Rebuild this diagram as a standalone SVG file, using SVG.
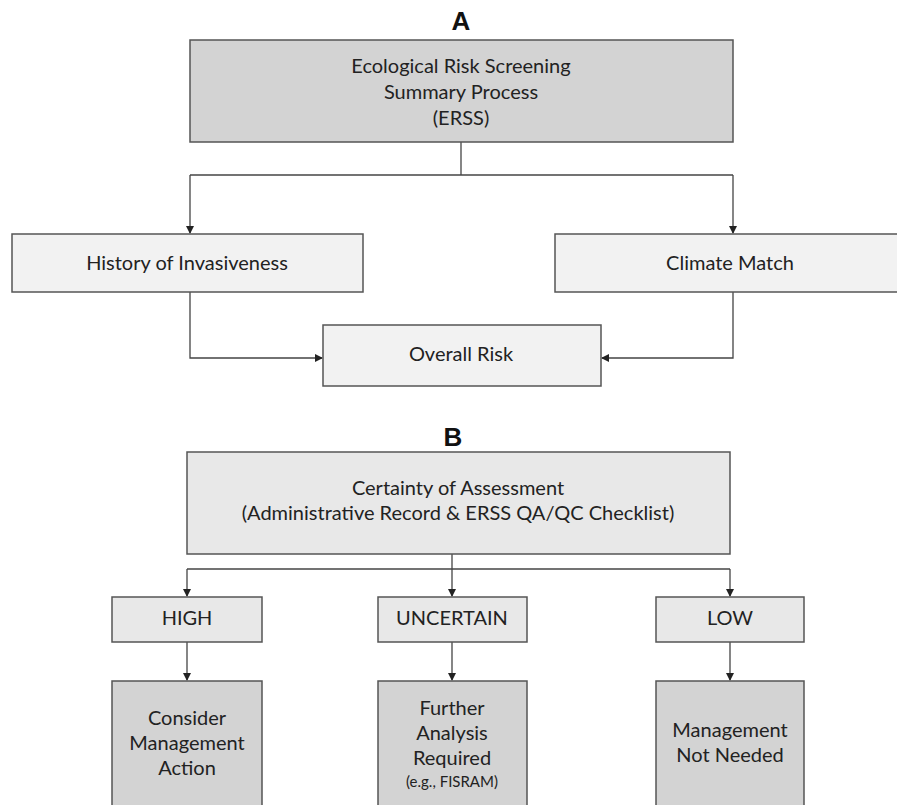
<svg xmlns="http://www.w3.org/2000/svg" width="897" height="805" viewBox="0 0 897 805">
<style>
.box{stroke:#555;stroke-width:1.5}
.dark{fill:#d3d3d3}
.light{fill:#f2f2f2}
.mid{fill:#e8e8e8}
text{font-family:Lato,"Open Sans",sans-serif;font-size:20px;fill:#222;text-anchor:middle}
.title{font-family:"Liberation Sans",Arial,sans-serif;font-weight:bold;font-size:26px;fill:#111}
.small{font-size:15px}
.conn{fill:none;stroke:#444;stroke-width:1.3}
</style>
<defs>
<marker id="arr" markerWidth="8" markerHeight="8" refX="7" refY="4" orient="auto" markerUnits="userSpaceOnUse">
<path d="M0,0 L8,4 L0,8 z" fill="#222"/>
</marker>
</defs>
<rect width="897" height="805" fill="#fff"/>
<text class="title" x="461" y="30">A</text>
<text class="title" x="453" y="446">B</text>
<g id="connectors">
<path class="conn" d="M461,142 V175"/>
<path class="conn" d="M190,175 H733"/>
<path class="conn" d="M190,175 V233" marker-end="url(#arr)"/>
<path class="conn" d="M733,175 V233" marker-end="url(#arr)"/>
<path class="conn" d="M190,292 V358 H322" marker-end="url(#arr)"/>
<path class="conn" d="M733,292 V358 H602" marker-end="url(#arr)"/>
<path class="conn" d="M187,569 H730"/>
<path class="conn" d="M452,554 V596" marker-end="url(#arr)"/>
<path class="conn" d="M187,569 V596" marker-end="url(#arr)"/>
<path class="conn" d="M730,569 V596" marker-end="url(#arr)"/>
<path class="conn" d="M187,642 V680" marker-end="url(#arr)"/>
<path class="conn" d="M452,642 V680" marker-end="url(#arr)"/>
<path class="conn" d="M730,642 V680" marker-end="url(#arr)"/>
</g>
<g id="erss">
<rect class="box dark" x="190" y="40" width="543" height="102"/>
<text x="461" y="73">Ecological Risk Screening</text>
<text x="461" y="99">Summary Process</text>
<text x="461" y="125">(ERSS)</text>
</g>
<g id="history">
<rect class="box light" x="12" y="234" width="351" height="58"/>
<text x="187" y="270">History of Invasiveness</text>
</g>
<g id="climate">
<rect class="box light" x="555" y="234" width="360" height="58"/>
<text x="730" y="270">Climate Match</text>
</g>
<g id="overall">
<rect class="box light" x="323" y="325" width="278" height="61"/>
<text x="461" y="361">Overall Risk</text>
</g>
<g id="certainty">
<rect class="box mid" x="187" y="452" width="543" height="102"/>
<text x="458" y="495">Certainty of Assessment</text>
<text x="458" y="520">(Administrative Record &amp; ERSS QA/QC Checklist)</text>
</g>
<g id="high">
<rect class="box mid" x="112" y="597" width="150" height="45"/>
<text x="187" y="625">HIGH</text>
</g>
<g id="uncertain">
<rect class="box mid" x="378" y="597" width="149" height="45"/>
<text x="452" y="625">UNCERTAIN</text>
</g>
<g id="low">
<rect class="box mid" x="656" y="597" width="148" height="45"/>
<text x="730" y="625">LOW</text>
</g>
<g id="consider">
<rect class="box dark" x="112" y="681" width="150" height="130"/>
<text x="187" y="725">Consider</text>
<text x="187" y="750">Management</text>
<text x="187" y="775">Action</text>
</g>
<g id="further">
<rect class="box dark" x="378" y="681" width="149" height="130"/>
<text x="452" y="715">Further</text>
<text x="452" y="740">Analysis</text>
<text x="452" y="765">Required</text>
<text class="small" x="452" y="787">(e.g., FISRAM)</text>
</g>
<g id="notneeded">
<rect class="box dark" x="656" y="681" width="148" height="130"/>
<text x="730" y="737">Management</text>
<text x="730" y="762">Not Needed</text>
</g>
</svg>
